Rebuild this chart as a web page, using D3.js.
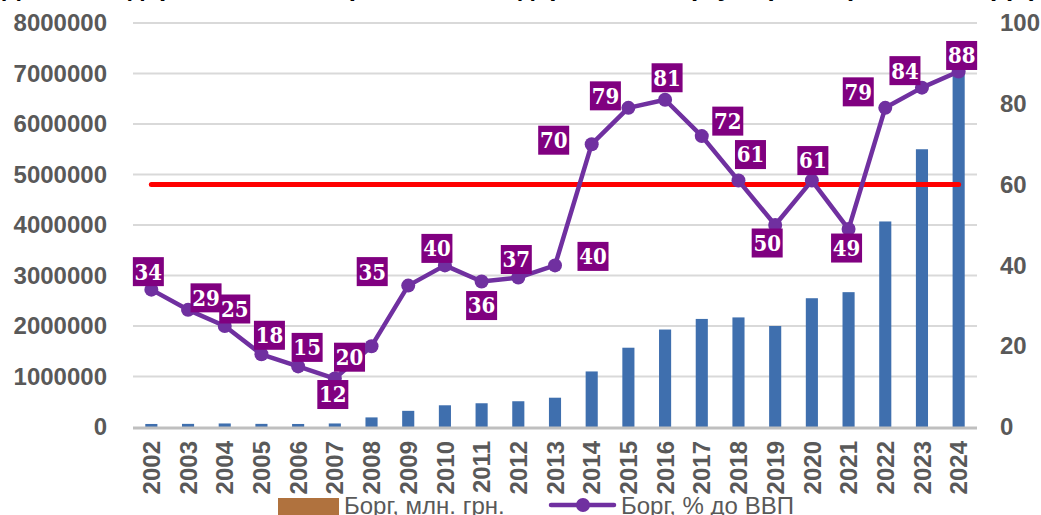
<!DOCTYPE html>
<html>
<head>
<meta charset="utf-8">
<script src="https://cdn.jsdelivr.net/npm/d3@7"></script>
<style>
  body { margin: 0; background: #fff; }
  text { font-family: "Liberation Sans", Arial, sans-serif; }
</style>
</head>
<body>
<svg class="chart_svg" width="1041" height="515"></svg>
<script>
// data
var years = ["2002","2003","2004","2005","2006","2007","2008","2009","2010","2011","2012","2013",
             "2014","2015","2016","2017","2018","2019","2020","2021","2022","2023","2024"];
var debtMln = [60000, 62000, 70000, 62000, 60000, 70000, 190000, 320000, 430000, 470000, 510000, 580000,
               1100000, 1570000, 1930000, 2140000, 2170000, 2000000, 2550000, 2670000, 4070000, 5500000, 7000000];
var debtGdp = [34, 29, 25, 18, 15, 12, 20, 35, 40, 36, 37, 40, 70, 79, 81, 72, 61, 50, 61, 49, 79, 84, 88];
var threshold = 60;
var leftTicks = [0, 1000000, 2000000, 3000000, 4000000, 5000000, 6000000, 7000000, 8000000];
var rightTicks = [0, 20, 40, 60, 80, 100];
var legendLabels = ["Борг, млн. грн.", "Борг, % до ВВП"];

// label box offsets (from the point), placed by hand like in the original
var labelOffsets = [[-3,-18],[18,-12],[10,-17],[8,-19],[9,-19],[-2,16],[-22,11],[-36,-14],[-8,-17],[0,24],
                    [-2,-18],[38,-9],[-38,-4],[-23,-12],[2,-22],[26,-15],[12,-26],[-8,18],[1,-20],[-2,19],
                    [-27,-16],[-17,-17],[3,-16]];

var svg = d3.select(".chart_svg"),
    plot = {left: 133, right: 977, top: 23, bottom: 427};

var grey = "#595959";

var x = d3.scaleBand().domain(years).range([plot.left, plot.right]).paddingInner(0.67).paddingOuter(0.335);
var cx = function(d) { return x(d) + x.bandwidth() / 2; };
var yL = d3.scaleLinear().domain([0, 8000000]).range([plot.bottom, plot.top]);
var yR = d3.scaleLinear().domain([0, 100]).range([plot.bottom, plot.top]);

// title, mostly outside the top edge (as in the original crop)
svg.append("text")
    .attr("x", 520).attr("y", -4)
    .attr("text-anchor", "middle")
    .style("font-size", "26px").style("font-weight", "bold").style("fill", "#000")
    .text("Динаміка державного та гарантованого державою боргу України (2002–2024 рр.)");

// gridlines
svg.append("g").selectAll("line")
    .data(leftTicks.slice(1))
    .enter().append("line")
    .attr("x1", plot.left).attr("x2", plot.right)
    .attr("y1", function(d) { return yL(d); }).attr("y2", function(d) { return yL(d); })
    .style("stroke", "#d9d9d9").style("stroke-width", 2);

// left axis
var leftAxis = svg.append("g")
    .attr("transform", "translate(" + plot.left + ",0)")
    .call(d3.axisLeft(yL).tickValues(leftTicks).tickFormat(d3.format("d")).tickSize(0).tickPadding(26));
leftAxis.select(".domain").remove();
leftAxis.selectAll("text").style("font-size", "24px").style("font-weight", "bold").style("fill", grey);

// right axis
var rightAxis = svg.append("g")
    .attr("transform", "translate(" + plot.right + ",0)")
    .call(d3.axisRight(yR).tickValues(rightTicks).tickSize(0).tickPadding(23));
rightAxis.select(".domain").remove();
rightAxis.selectAll("text").style("font-size", "24px").style("font-weight", "bold").style("fill", grey);

// bars
svg.append("g").selectAll("rect")
    .data(years)
    .enter().append("rect")
    .attr("x", function(d) { return x(d); })
    .attr("width", x.bandwidth())
    .attr("y", function(d, i) { return yL(debtMln[i]); })
    .attr("height", function(d, i) { return plot.bottom - yL(debtMln[i]); })
    .style("fill", "#3f6fae");

// baseline
svg.append("line")
    .attr("x1", plot.left).attr("x2", plot.right)
    .attr("y1", plot.bottom + 1).attr("y2", plot.bottom + 1)
    .style("stroke", "#bfbfbf").style("stroke-width", 3);

// bottom axis
var bottomAxis = svg.append("g")
    .attr("transform", "translate(0," + (plot.bottom + 1) + ")")
    .call(d3.axisBottom(x).tickSize(0));
bottomAxis.select(".domain").remove();
bottomAxis.selectAll("text")
    .attr("transform", "rotate(-90)")
    .attr("x", -13).attr("y", 0).attr("dy", "0.36em")
    .style("text-anchor", "end")
    .style("font-size", "24px").style("font-weight", "bold").style("fill", grey);

// 60% threshold
svg.append("line")
    .attr("x1", cx(years[0])).attr("x2", cx(years[years.length - 1]))
    .attr("y1", yR(threshold)).attr("y2", yR(threshold))
    .style("stroke", "#ff0000").style("stroke-width", 5).style("stroke-linecap", "round");

// debt to gdp line
var line = d3.line()
    .x(function(d, i) { return cx(years[i]); })
    .y(function(d) { return yR(d); });

svg.append("path")
    .datum(debtGdp)
    .attr("d", line)
    .style("fill", "none").style("stroke", "#7030a0").style("stroke-width", 4.5)
    .style("stroke-linejoin", "round");

svg.append("g").selectAll("circle")
    .data(debtGdp)
    .enter().append("circle")
    .attr("cx", function(d, i) { return cx(years[i]); })
    .attr("cy", function(d) { return yR(d); })
    .attr("r", 7)
    .style("fill", "#7030a0");

// data labels
var labels = svg.append("g").selectAll("g")
    .data(debtGdp)
    .enter().append("g")
    .attr("transform", function(d, i) {
        return "translate(" + (cx(years[i]) + labelOffsets[i][0]) + "," + (yR(d) + labelOffsets[i][1]) + ")";
    });

labels.append("rect")
    .attr("x", -15.5).attr("y", -14.5)
    .attr("width", 31).attr("height", 29)
    .style("fill", "#800080");

labels.append("text")
    .attr("text-anchor", "middle")
    .attr("dy", "0.36em")
    .style("font-family", "'DejaVu Serif Condensed', 'DejaVu Serif', serif")
    .style("font-stretch", "condensed")
    .style("font-size", "22px").style("font-weight", "bold").style("fill", "#fff")
    .text(function(d) { return d; });

// legend
var legend = svg.append("g");
legend.append("rect")
    .attr("x", 278).attr("y", 498).attr("width", 61).attr("height", 20)
    .style("fill", "#b0723e");
legend.append("text")
    .attr("x", 344).attr("y", 514)
    .style("font-size", "24px").style("fill", grey)
    .text(legendLabels[0]);

legend.append("line")
    .attr("x1", 551).attr("x2", 614).attr("y1", 505).attr("y2", 505)
    .style("stroke", "#7030a0").style("stroke-width", 4.5).style("stroke-linecap", "round");
legend.append("circle")
    .attr("cx", 583).attr("cy", 505).attr("r", 7)
    .style("fill", "#7030a0");
legend.append("text")
    .attr("x", 621).attr("y", 514)
    .style("font-size", "24px").style("fill", grey)
    .text(legendLabels[1]);
</script>
</body>
</html>
